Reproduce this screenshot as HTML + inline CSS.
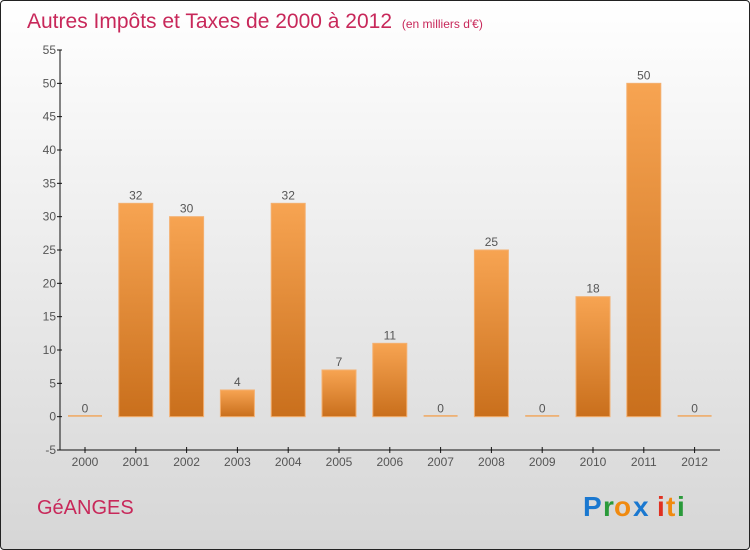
<!DOCTYPE html>
<html><head><meta charset="utf-8"><style>
body{margin:0;width:750px;height:550px;overflow:hidden;font-family:"Liberation Sans",sans-serif}
#wrap{position:absolute;left:0;top:0;width:748px;height:548px;border:1px solid #222;border-radius:4px;background:linear-gradient(#ffffff,#d6d6d6);overflow:hidden}
</style></head><body>
<div id="wrap">
<svg width="750" height="550" id="chart" style="position:absolute;left:-1px;top:-1px">
<defs><linearGradient id="bg" x1="0" y1="0" x2="0" y2="1"><stop offset="0" stop-color="#f7a452"/><stop offset="1" stop-color="#c96f1c"/></linearGradient></defs>
<text x="27" y="28" font-size="21" fill="#c8285a">Autres Impôts et Taxes de 2000 à 2012 <tspan font-size="12" dx="4">(en milliers d'€)</tspan></text>
<g id="axes"></g><g id="bars"></g>
<text x="37" y="514" font-size="20" fill="#c8285a">GéANGES</text>
<g font-size="28" font-weight="bold" font-family="Liberation Sans, sans-serif">
<text x="583" y="516" fill="#1a78d0">P</text><text x="603" y="516" fill="#2a9a3a">r</text><text x="614" y="516" fill="#f08a10">o</text><text x="633" y="516" fill="#1a78d0">x</text><text x="657" y="516" fill="#e03020">i</text><text x="666" y="516" fill="#f08a10">t</text><text x="677" y="516" fill="#2a9a3a">i</text></g>
</svg></div>
<script>
const years=["2000","2001","2002","2003","2004","2005","2006","2007","2008","2009","2010","2011","2012"];
const values=[0,32,30,4,32,7,11,0,25,0,18,50,0];
const ticks=[-5,0,5,10,15,20,25,30,35,40,45,50,55];
const NS="http://www.w3.org/2000/svg";
const x0=60,x1=720,yTop=50,yBot=450,vmin=-5,vmax=55;
const y=v=>yBot-(v-vmin)/(vmax-vmin)*(yBot-yTop);
const step=50.8;
const xc=i=>85+step*i;
function mk(t,a,p){const e=document.createElementNS(NS,t);for(const k in a)e.setAttribute(k,a[k]);p.appendChild(e);return e;}
const ax=document.getElementById('axes'),bg=document.getElementById('bars');
let l=mk('line',{x1:x0,y1:yTop,x2:x0,y2:yBot,stroke:'#111'},ax);


l=mk('line',{x1:x0,y1:yBot,x2:x1,y2:yBot,stroke:'#111'},ax);


ticks.forEach(t=>{mk('line',{x1:x0-3,x2:x0+2,y1:y(t),y2:y(t),stroke:'#111'},ax);
const tx=mk('text',{x:x0-4,y:y(t)+4,'text-anchor':'end','font-size':12,fill:'#555'},ax);tx.textContent=t;

});
years.forEach((yr,i)=>{const c=xc(i);
mk('line',{x1:c,x2:c,y1:yBot-3,y2:yBot+3,stroke:'#111'},ax);
const tx=mk('text',{x:c,y:yBot+16,'text-anchor':'middle','font-size':12,fill:'#555'},ax);tx.textContent=yr;


const v=values[i];const h=Math.max(y(0)-y(v),1.5);
const r=mk('rect',{x:c-17,y:y(0)-h,width:34,height:h,fill:v>0?'url(#bg)':'#f0a860',stroke:'#f4b070','stroke-width':v>0?1:0},bg);


const lb=mk('text',{x:c,y:y(v)-4,'text-anchor':'middle','font-size':12,fill:'#555'},bg);lb.textContent=v;

});
</script></body></html>
